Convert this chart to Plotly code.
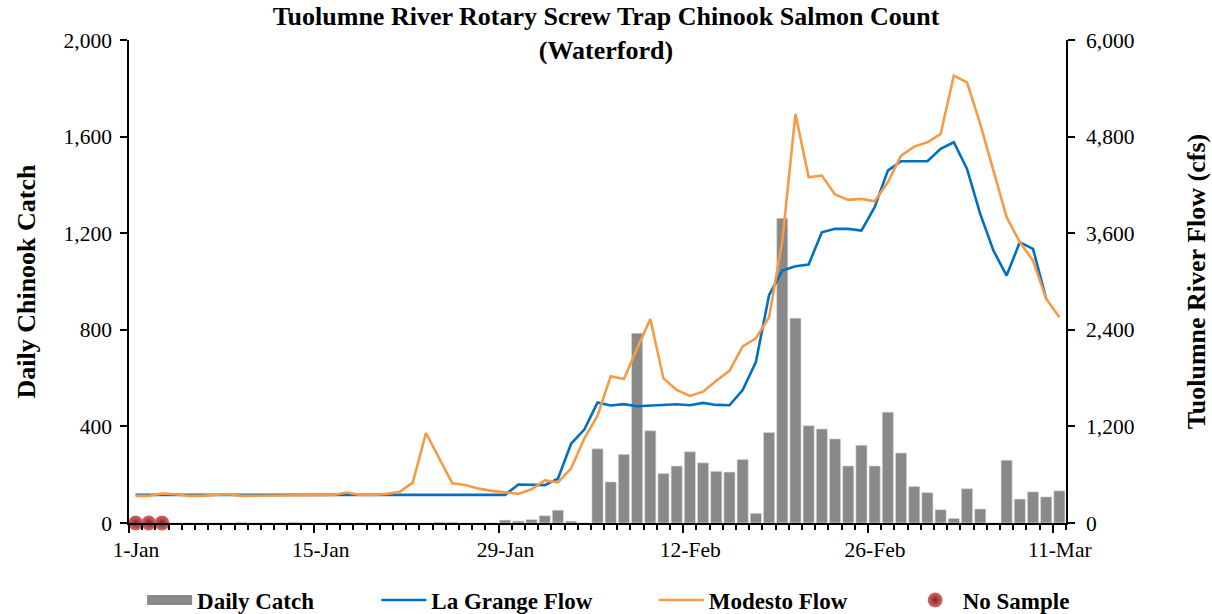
import plotly.graph_objects as go

# ---------------- data ----------------
day = list(range(71))  # 1-Jan .. 11-Mar (leap year)
tick_pos = [0, 14, 28, 42, 56, 70]
tick_labels = ["1-Jan", "15-Jan", "29-Jan", "12-Feb", "26-Feb", "11-Mar"]

daily_catch = [None, None, None, 0, 0, 0, 0, 0, 3, 0,
               0, 0, 3, 0, 0, 0, 0, 0, 0, 0,
               0, 0, 0, 3, 3, 0, 0, 0, 12, 8,
               14, 30, 53, 8, 0, 307, 170, 284, 786, 382,
               205, 236, 295, 249, 214, 211, 263, 40, 375, 1262,
               848, 403, 389, 348, 236, 322, 236, 459, 290, 151,
               126, 55, 19, 142, 58, 0, 260, 99, 129, 108,
               133]

la_grange_flow = [350] * 29 + [
    478, 470, 470, 550, 985, 1160, 1496, 1460, 1476, 1450,
    1460, 1467, 1476, 1463, 1492, 1467, 1463, 1652, 2000, 2830,
    3136, 3190, 3211, 3612, 3654, 3654, 3633, 3923, 4378, 4494,
    4494, 4494, 4647, 4730, 4399, 3840, 3385, 3074, 3488, 3406,
    2785, None]

modesto_flow = [337, 337, 366, 357, 337, 337, 349, 357, 337, 340,
                340, 340, 340, 345, 345, 349, 378, 349, 349, 362,
                386, 501, 1118, 800, 493, 473, 427, 399, 378, 362,
                419, 530, 505, 678, 1050, 1332, 1824, 1788, 2166, 2535,
                1796, 1652, 1578, 1631, 1767, 1890, 2194, 2295, 2557, 3500,
                5080, 4295, 4316, 4080, 4014, 4026, 3997, 4233, 4564, 4676,
                4730, 4833, 5557, 5474, 4957, 4378, 3799, 3488, 3261, 2785,
                2557]

no_sample_days = [0, 1, 2]
no_sample_vals = [0, 0, 0]

# ---------------- figure ----------------
FONT = "Liberation Serif"
BAR_COLOR = "#898989"
fig = go.Figure()

fig.add_trace(go.Bar(x=day, y=daily_catch, name="Daily Catch", showlegend=False,
                     marker=dict(color=BAR_COLOR, line=dict(color="#d9d9d9", width=0.6))))
# legend swatch for the bars (wide grey block like the original)
fig.add_trace(go.Scatter(x=[None], y=[None], name="Daily Catch", mode="lines",
                         showlegend=True, line=dict(color=BAR_COLOR, width=11),
                         legend="legend"))
fig.add_trace(go.Scatter(x=day, y=la_grange_flow, name="La Grange Flow", mode="lines",
                         showlegend=True,
                         line=dict(color="#0070C0", width=2.6), yaxis="y2",
                         legend="legend2"))
fig.add_trace(go.Scatter(x=day, y=modesto_flow, name="Modesto Flow", mode="lines",
                         showlegend=True,
                         line=dict(color="#F79A46", width=2.6), yaxis="y2",
                         legend="legend3"))
fig.add_trace(go.Scatter(x=no_sample_days, y=no_sample_vals, name="No Sample", mode="markers",
                         showlegend=True,
                         marker=dict(size=15, color="#D86A6A",
                                     gradient=dict(type="radial", color="#7E2222"),
                                     line=dict(width=0)),
                         cliponaxis=False, legend="legend4"))

minor_vals = [i - 0.5 for i in range(72)]
major_vals = [p - 0.5 for p in tick_pos]

legend_common = dict(orientation="h", yref="container", yanchor="middle", y=1 - 600 / 614,
                     xanchor="left", bgcolor="rgba(0,0,0,0)", itemwidth=45,
                     font=dict(family=FONT, size=23, color="black", weight="bold"))

fig.update_layout(
    width=1212, height=614,
    paper_bgcolor="white", plot_bgcolor="white",
    margin=dict(l=129, r=146, t=40, b=91, autoexpand=False),
    font=dict(family=FONT, color="black"),
    bargap=0.16,
    title=dict(text="<b>Tuolumne River Rotary Screw Trap Chinook Salmon Count<br>(Waterford)</b>",
               x=0.5, xref="container", xanchor="center",
               y=1 - 25 / 614, yref="container", yanchor="middle",
               font=dict(family=FONT, size=26, color="black")),
    xaxis=dict(range=[-0.5, 70.5], tickmode="array", tickvals=major_vals, ticktext=tick_labels,
               ticklabelshift=7, ticklabelstandoff=-2,
               ticks="outside", ticklen=8, tickwidth=1.5, tickcolor="black",
               minor=dict(tickmode="array", tickvals=minor_vals, ticks="outside", ticklen=5,
                          tickwidth=1.5, tickcolor="black"),
               showline=True, linecolor="black", linewidth=1.5, showgrid=False, zeroline=False,
               automargin=False,
               tickfont=dict(family=FONT, size=21.5, color="black")),
    yaxis=dict(range=[0, 2000], tickmode="linear", tick0=0, dtick=400, tickformat=",",
               ticks="outside", ticklen=7, tickwidth=1.5, tickcolor="black",
               ticklabelstandoff=4,
               showline=True, linecolor="black", linewidth=1.5, showgrid=False, zeroline=False,
               automargin=False,
               tickfont=dict(family=FONT, size=21.5, color="black"),
               title=dict(text="<b>Daily Chinook Catch</b>", standoff=20,
                          font=dict(family=FONT, size=26, color="black"))),
    yaxis2=dict(range=[0, 6000], tickmode="linear", tick0=0, dtick=1200, tickformat=",",
                overlaying="y", side="right",
                ticks="outside", ticklen=7, tickwidth=1.5, tickcolor="black",
                ticklabelstandoff=7,
                showline=True, linecolor="black", linewidth=1.5, showgrid=False, zeroline=False,
                automargin=False,
                tickfont=dict(family=FONT, size=21.5, color="black"),
                title=dict(text="<b>Tuolumne River Flow (cfs)</b>", standoff=53,
                           font=dict(family=FONT, size=26, color="black"))),
    legend=dict(x=0.014, **legend_common),
    legend2=dict(x=0.264, **legend_common),
    legend3=dict(x=0.560, **legend_common),
    legend4=dict(x=0.831, **legend_common),
)

fig.write_html("out.html", config={"displayModeBar": False},
               post_script="document.body.style.margin='0px';document.body.style.padding='0px';")
